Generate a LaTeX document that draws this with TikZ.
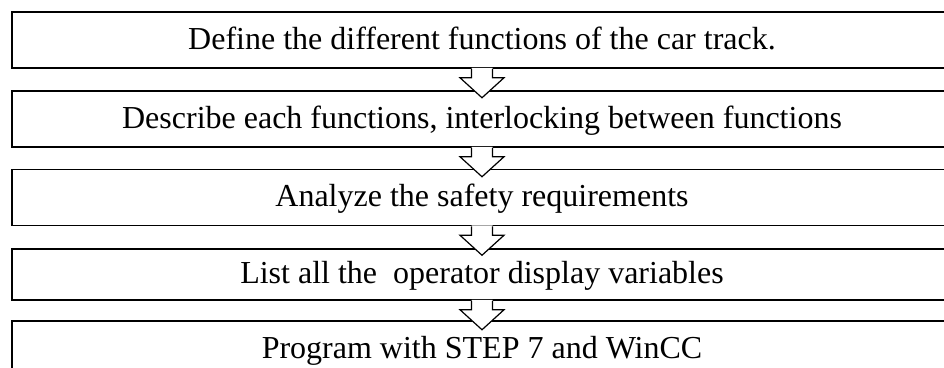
\documentclass[tikz,border=0pt]{standalone}
\usepackage{fontspec}
\setmainfont{Liberation Serif}

% hollow arrow hanging below a box
\newcommand{\flowarrow}[1]{%
	\fill[white] ([xshift=-10.5pt,yshift=1pt]#1.south) -- ++(0,-10) -- ++(-11.5,0) -- ++(22,-20) -- ++(22,20) -- ++(-11.5,0) -- ++(0,10) -- cycle;
	\path[arrline] ([xshift=-10.5pt]#1.south) -- ++(0,-9) -- ++(-11.5,0) -- ++(22,-20) -- ++(22,20) -- ++(-11.5,0) -- ++(0,9);
}

\begin{document}
\begin{tikzpicture}[
x=1pt, y=1pt,
box/.style={draw,line width=1.5pt,minimum width=940pt,minimum height=56pt,inner sep=0pt,
	font=\fontsize{32pt}{38pt}\selectfont,text height=24pt,text depth=6pt},
arrline/.style={draw,line width=1.2pt,line join=miter}
]
\useasboundingbox (0,0) rectangle (944,-367);
\clip (0,0) rectangle (944,-367);

\node[box] (define) at (482,-40) {Define the different functions of the car track.};
\node[box] (describe) at (482,-119) {Describe each functions, interlocking between functions};
\node[box] (analyze) at (482,-197.5) {Analyze the safety requirements};
\node[box,minimum height=51pt] (list) at (482,-274.5) {List all the~ operator display variables};
\node[box] (program) at (482,-349) {Program with STEP 7 and WinCC};

%arrows
\flowarrow{define}
\flowarrow{describe}
\flowarrow{analyze}
\flowarrow{list}

\end{tikzpicture}
\end{document}
